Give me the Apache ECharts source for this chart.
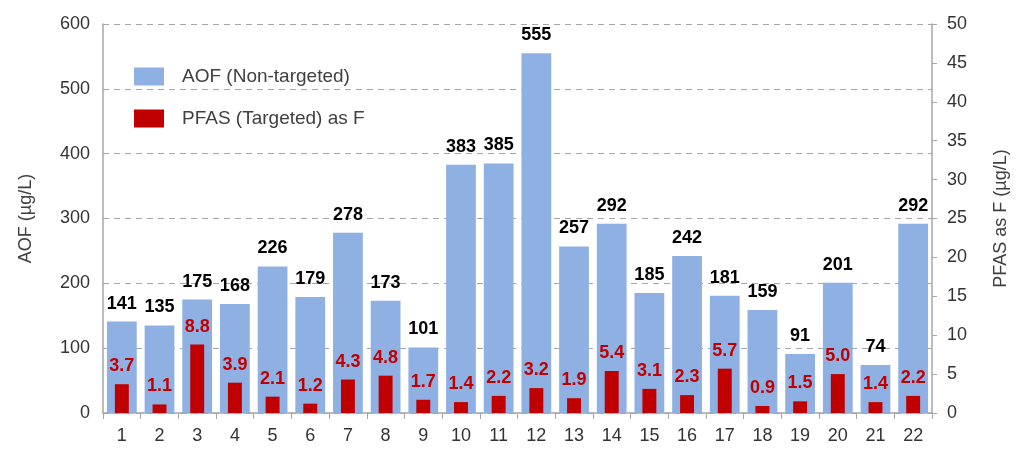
<!DOCTYPE html>
<html>
<head>
<meta charset="utf-8">
<script src="https://cdn.jsdelivr.net/npm/echarts@6/dist/echarts.min.js"></script>
<style>html,body{margin:0;padding:0;background:#fff;}#c{width:1024px;height:458px;}</style>
</head>
<body>
<div id="c"></div>
<script>
const categories = ['1','2','3','4','5','6','7','8','9','10','11','12','13','14','15','16','17','18','19','20','21','22'];
const aofValues = [141,135,175,168,226,179,278,173,101,383,385,555,257,292,185,242,181,159,91,201,74,292];
const pfasValues = [3.7,1.1,8.8,3.9,2.1,1.2,4.3,4.8,1.7,1.4,2.2,3.2,1.9,5.4,3.1,2.3,5.7,0.9,1.5,5.0,1.4,2.2];
const leftTicks = {min:0, max:600, interval:100};
const rightTicks = {min:0, max:50, interval:5};

const FONT = '"Liberation Sans", Arial, sans-serif';
const chart = echarts.init(document.getElementById('c'));
chart.setOption({
  animation: false,
  textStyle: {fontFamily: FONT},
  grid: {left: 103, right: 92, top: 24, bottom: 45},
  legend: {
    orient: 'vertical', left: 129, top: 62,
    icon: 'rect',
    itemWidth: 30, itemHeight: 18, itemGap: 23,
    textStyle: {fontSize: 19, color: '#404040', fontFamily: FONT, padding: [0,0,0,13]},
    data: ['AOF (Non-targeted)', 'PFAS (Targeted) as F']
  },
  xAxis: [
    {type: 'category', data: categories,
     axisLine: {lineStyle: {color: '#a6a6a6', width: 1.5}},
     axisTick: {show: true, length: 6, lineStyle: {color: '#a6a6a6'}},
     axisLabel: {fontSize: 18, color: '#333', margin: 14, fontFamily: FONT}},
    {type: 'category', data: categories, show: false}
  ],
  yAxis: [
    {type: 'value', min: leftTicks.min, max: leftTicks.max, interval: leftTicks.interval,
     name: 'AOF (µg/L)', nameLocation: 'middle', nameRotate: 90, nameGap: 68,
     nameTextStyle: {fontSize: 18, color: '#404040', fontFamily: FONT},
     axisLine: {show: true, lineStyle: {color: '#a6a6a6', width: 1.5}},
     axisTick: {show: false},
     axisLabel: {fontSize: 18, color: '#333', margin: 13, fontFamily: FONT},
     splitLine: {show: true, lineStyle: {color: '#a6a6a6', type: [6,5], width: 1}}},
    {type: 'value', min: rightTicks.min, max: rightTicks.max, interval: rightTicks.interval,
     name: 'PFAS as F (µg/L)', nameLocation: 'middle', nameRotate: 90, nameGap: 60,
     nameTextStyle: {fontSize: 18, color: '#404040', fontFamily: FONT},
     axisLine: {show: true, lineStyle: {color: '#a6a6a6', width: 1.5}},
     axisTick: {show: true, length: 5, lineStyle: {color: '#a6a6a6'}},
     axisLabel: {fontSize: 18, color: '#333', margin: 15, fontFamily: FONT},
     splitLine: {show: false}}
  ],
  series: [
    {name: 'AOF (Non-targeted)', type: 'bar', xAxisIndex: 0, yAxisIndex: 0,
     data: aofValues, barWidth: '79%',
     itemStyle: {color: '#8FB0E3'},
     label: {show: true, position: 'top', distance: 9, fontSize: 18, fontWeight: 'bold', color: '#000', fontFamily: FONT}},
    {name: 'PFAS (Targeted) as F', type: 'bar', xAxisIndex: 1, yAxisIndex: 1,
     data: pfasValues, barWidth: '37%', z: 3,
     itemStyle: {color: '#C00000'},
     label: {show: true, position: 'top', distance: 9, fontSize: 18, fontWeight: 'bold', color: '#C00000', fontFamily: FONT,
       formatter: p => p.value.toFixed(1)}}
  ]
});
</script>
</body>
</html>
